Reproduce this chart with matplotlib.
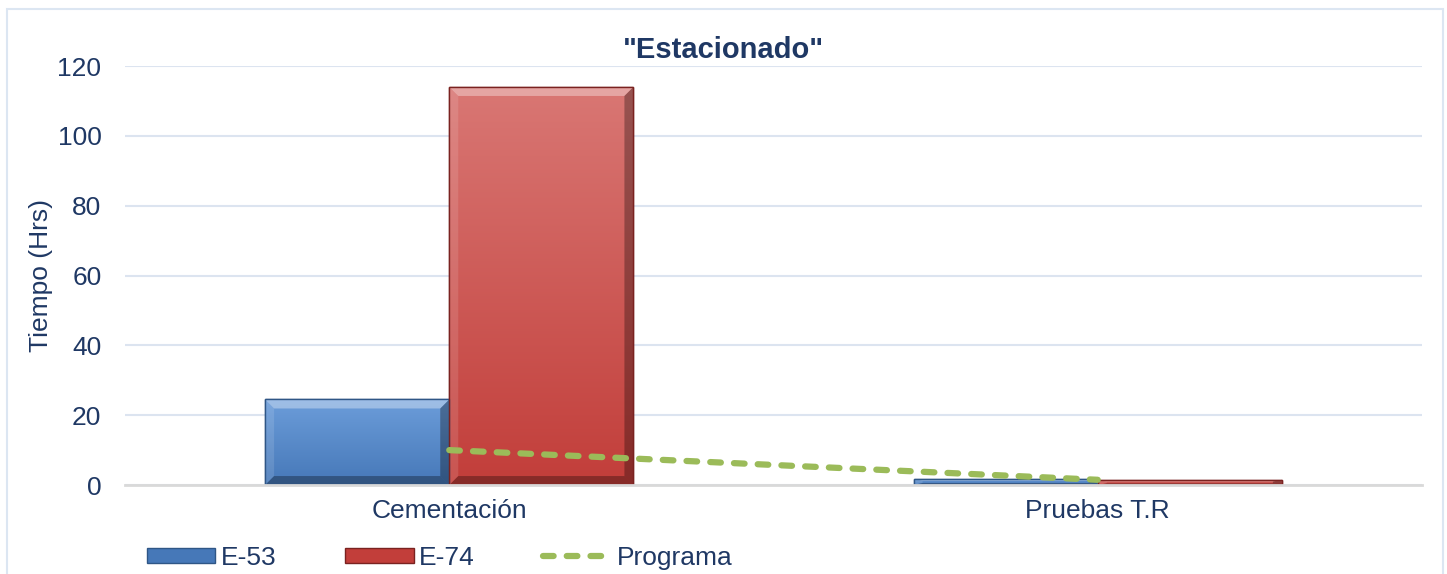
import matplotlib.pyplot as plt
import numpy as np
from matplotlib.patches import Rectangle, Polygon
from matplotlib.lines import Line2D
from matplotlib.colors import LinearSegmentedColormap

categorias = ['Cementación', 'Pruebas T.R']
e53 = [24.5, 1.8]
e74 = [114, 1.5]
programa = [10, 1.5]
yticks = [0, 20, 40, 60, 80, 100, 120]

TEXTO = '#1F3864'
AZUL = ('#6C9DDA', '#4678B8', '#2F5686')    # arriba, abajo, borde
ROJO = ('#D97774', '#C23E3A', '#7A2220')
VERDE = '#9BBB59'

plt.rcParams['font.family'] = ['Liberation Sans', 'DejaVu Sans']

fig = plt.figure(figsize=(14.47, 5.74), dpi=100)
ax = fig.add_axes([0.0864, 0.155, 0.8963, 0.730])
ax.set_xlim(-0.5, 1.5)
ax.set_ylim(0, 120)

# cuanto mide un pixel en unidades de datos
ancho_px = fig.get_figwidth() * fig.dpi * ax.get_position().width
alto_px = fig.get_figheight() * fig.dpi * ax.get_position().height
px_x = 2.0 / ancho_px
px_y = 120.0 / alto_px


def barra_bisel(x0, ancho, alto, colores):
    arriba, abajo, borde = colores
    rect = Rectangle((x0, 0), ancho, alto, facecolor=abajo, edgecolor=borde,
                     linewidth=1, zorder=2)
    ax.add_patch(rect)
    cmap = LinearSegmentedColormap.from_list('g', [abajo, arriba])
    grad = np.linspace(0, 1, 256).reshape(-1, 1)
    im = ax.imshow(grad, extent=[x0, x0 + ancho, 0, alto], origin='lower',
                   aspect='auto', cmap=cmap, zorder=2.1)
    im.set_clip_path(rect)
    bx = 9 * px_x
    by = min(9 * px_y, alto / 3)
    x1, y1 = x0 + ancho, alto
    caras = [
        ([(x0, y1), (x1, y1), (x1 - bx, y1 - by), (x0 + bx, y1 - by)], 'white', 0.35),
        ([(x0, 0), (x0 + bx, by), (x0 + bx, y1 - by), (x0, y1)], 'white', 0.12),
        ([(x1, 0), (x1, y1), (x1 - bx, y1 - by), (x1 - bx, by)], 'black', 0.30),
        ([(x0, 0), (x1, 0), (x1 - bx, by), (x0 + bx, by)], 'black', 0.30),
    ]
    for pts, c, a in caras:
        ax.add_patch(Polygon(pts, closed=True, facecolor=c, alpha=a,
                             edgecolor='none', zorder=2.2))
    ax.add_patch(Rectangle((x0, 0), ancho, alto, facecolor='none',
                           edgecolor=borde, linewidth=1, zorder=2.3))


x = np.arange(len(categorias))
w = 0.284
for i in range(len(categorias)):
    barra_bisel(x[i] - w, w, e53[i], AZUL)
    barra_bisel(x[i], w, e74[i], ROJO)

ax.plot(x, programa, color=VERDE, linewidth=4.5, linestyle=(0, (1.7, 2.1)),
        dash_capstyle='round', zorder=3)

ax.set_xlim(-0.5, 1.5)
ax.set_ylim(0, 120)
ax.set_yticks(yticks)
ax.set_xticks(x)
ax.set_xticklabels(categorias)
ax.tick_params(length=0, labelsize=19, colors=TEXTO, pad=10)
ax.tick_params(axis='y', pad=17)
ax.grid(axis='y', color='#DCE4F0', linewidth=1.5)
ax.set_axisbelow(True)
for s in ['top', 'right', 'left']:
    ax.spines[s].set_visible(False)
ax.spines['bottom'].set_color('#D9D9D9')
ax.spines['bottom'].set_linewidth(2)
ax.set_ylabel('Tiempo (Hrs)', fontsize=19, color=TEXTO, labelpad=3)

fig.text(0.5, 0.913, '"Estacionado"', ha='center', va='center',
         fontsize=21, fontweight='bold', color=TEXTO)

handles = [Rectangle((0, 0), 1, 1, facecolor=AZUL[1], edgecolor=AZUL[2]),
           Rectangle((0, 0), 1, 1, facecolor=ROJO[1], edgecolor=ROJO[2]),
           Line2D([], [], color=VERDE, linewidth=4.5, linestyle=(0, (1.7, 2.1)),
                  dash_capstyle='round')]
fig.legend(handles, ['E-53', 'E-74', 'Programa'], loc='center', ncol=3,
           bbox_to_anchor=(0.304, 0.028), frameon=False, fontsize=19,
           labelcolor=TEXTO, handlelength=2.6, handleheight=0.5,
           handletextpad=0.2, columnspacing=2.6)

fig.add_artist(Rectangle((0.0048, -0.1), 0.9924, 1.084, transform=fig.transFigure,
                         facecolor='none', edgecolor='#DCE6F2', linewidth=1.5))

fig.savefig('out.png', dpi=100)
